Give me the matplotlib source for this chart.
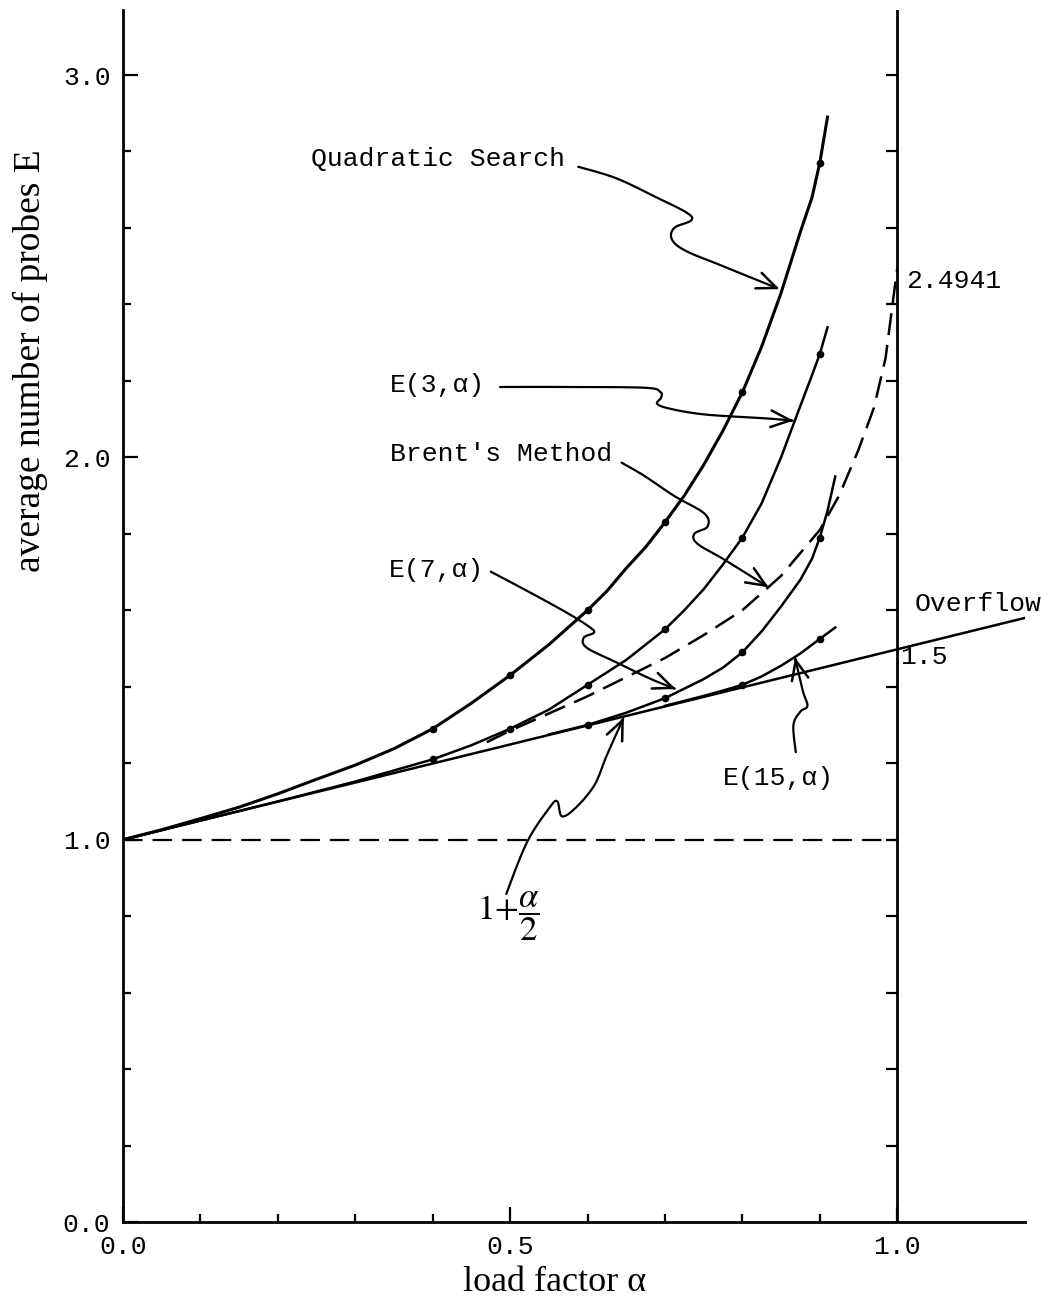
import numpy as np
import matplotlib.pyplot as plt

# values (load factor alpha -> average probes E)
quad_a = [0.0, 0.05, 0.1, 0.15, 0.2, 0.25, 0.3, 0.35, 0.4, 0.45, 0.5, 0.55, 0.6, 0.625, 0.65,
          0.675, 0.7, 0.725, 0.75, 0.775, 0.8, 0.825, 0.85, 0.875, 0.89, 0.9, 0.91]
quad_e = [1.0, 1.026, 1.055, 1.085, 1.12, 1.158, 1.195, 1.238, 1.29, 1.357, 1.43, 1.51, 1.60, 1.65, 1.71,
          1.765, 1.83, 1.90, 1.98, 2.07, 2.17, 2.29, 2.43, 2.59, 2.68, 2.77, 2.89]

e3_a = [0.0, 0.1, 0.2, 0.3, 0.4, 0.45, 0.5, 0.55, 0.6, 0.65, 0.7, 0.725, 0.75, 0.775, 0.8,
        0.825, 0.85, 0.875, 0.89, 0.9, 0.91]
e3_e = [1.0, 1.05, 1.10, 1.152, 1.21, 1.247, 1.29, 1.34, 1.405, 1.47, 1.55, 1.60, 1.655, 1.72, 1.79,
        1.88, 2.0, 2.135, 2.215, 2.27, 2.34]

e7_a = [0.55, 0.6, 0.65, 0.7, 0.75, 0.775, 0.8, 0.825, 0.85, 0.875, 0.89, 0.9, 0.91, 0.92]
e7_e = [1.275, 1.30, 1.332, 1.37, 1.42, 1.45, 1.49, 1.545, 1.61, 1.68, 1.735, 1.79, 1.86, 1.95]

e15_a = [0.7, 0.75, 0.775, 0.8, 0.825, 0.85, 0.875, 0.9, 0.92]
e15_e = [1.35, 1.376, 1.39, 1.405, 1.427, 1.455, 1.487, 1.525, 1.555]

brent_a = [0.47, 0.5, 0.55, 0.6, 0.65, 0.7, 0.75, 0.8, 0.85, 0.9, 0.925, 0.95, 0.97, 0.985, 1.0]
brent_e = [1.255, 1.285, 1.33, 1.375, 1.425, 1.475, 1.535, 1.60, 1.69, 1.81, 1.90, 2.02, 2.13, 2.26, 2.4941]

# measured points
dot_a = [0.4, 0.5, 0.6, 0.7, 0.8, 0.9]
quad_dots = [1.29, 1.43, 1.60, 1.83, 2.17, 2.77]
e3_dots = [1.21, 1.29, 1.405, 1.55, 1.79, 2.27]
e7_dot_a = [0.6, 0.7, 0.8, 0.9]
e7_dots = [1.30, 1.37, 1.49, 1.79]
e15_dot_a = [0.8, 0.9]
e15_dots = [1.405, 1.525]

# 1 + alpha/2 line (runs on past 1.0 as "Overflow")
line_a = [0.0, 1.165]
line_e = [1.0, 1.58]

mono = 'Liberation Mono'
serif = 'Liberation Serif'


def smooth(pts, n=14):
    # catmull-rom through leader waypoints
    p = np.array(pts, float)
    p = np.vstack([p[0], p, p[-1]])
    out = []
    for i in range(1, len(p) - 2):
        p0, p1, p2, p3 = p[i - 1], p[i], p[i + 1], p[i + 2]
        for t in np.linspace(0, 1, n, endpoint=False):
            out.append(0.5 * (2 * p1 + (-p0 + p2) * t + (2 * p0 - 5 * p1 + 4 * p2 - p3) * t ** 2
                              + (-p0 + 3 * p1 - 3 * p2 + p3) * t ** 3))
    out.append(p[-2])
    return np.array(out)


def leader(ax, pts):
    c = smooth(pts)
    ax.plot(c[:-1, 0], c[:-1, 1], color='black', lw=1.6, solid_capstyle='round')
    ax.annotate('', xy=tuple(c[-1]), xytext=tuple(c[-3]),
                arrowprops=dict(arrowstyle='->, head_length=1.4, head_width=0.6',
                                lw=1.8, color='black', shrinkA=0, shrinkB=0))


fig = plt.figure(figsize=(10.63, 13.0), dpi=100)
ax = fig.add_axes([0.1157, 0.06, 0.8485, 0.9323])
ax.set_xlim(0, 1.165)
ax.set_ylim(0, 3.17)

for s in ['top', 'right']:
    ax.spines[s].set_visible(False)
for s in ['left', 'bottom']:
    ax.spines[s].set_linewidth(2.0)

lw = 1.8
ax.plot(quad_a, quad_e, color='black', lw=2.2)
ax.plot(e3_a, e3_e, color='black', lw=lw)
ax.plot(e7_a, e7_e, color='black', lw=lw)
ax.plot(e15_a, e15_e, color='black', lw=lw)
ax.plot(brent_a, brent_e, color='black', lw=lw, linestyle=(0, (8.8, 4)))
ax.plot(line_a, line_e, color='black', lw=lw)
ax.plot([0.0, 1.0], [1.0, 1.0], color='black', lw=1.6, linestyle=(0, (8.8, 4.5)))

ax.plot(dot_a, quad_dots, 'o', color='black', ms=4.5)
ax.plot(dot_a, e3_dots, 'o', color='black', ms=4.5)
ax.plot(e7_dot_a, e7_dots, 'o', color='black', ms=4.5)
ax.plot(e15_dot_a, e15_dots, 'o', color='black', ms=4.5)

# vertical line at alpha = 1 with inward ticks
ax.plot([1.0, 1.0], [0, 3.17], color='black', lw=2.0)
rt = np.arange(0.2, 3.01, 0.2)
ax.hlines(rt, 1.0 - 0.014, 1.0, color='black', lw=1.6)

ax.set_xticks([0.0, 0.5, 1.0])
ax.set_xticklabels(['0.0', '0.5', '1.0'])
ax.set_xticks([0.1, 0.2, 0.3, 0.4, 0.6, 0.7, 0.8, 0.9], minor=True)
ax.set_yticks([0.0, 1.0, 2.0, 3.0])
ax.set_yticklabels(['0.0', '1.0', '2.0', '3.0'])
ax.set_yticks(np.arange(0.2, 3.0, 0.2), minor=True)
ax.tick_params(axis='both', which='major', direction='in', length=11, width=1.6,
               labelsize=19, pad=9)
ax.tick_params(axis='both', which='minor', direction='in', length=6, width=1.6)
for lab in ax.get_xticklabels() + ax.get_yticklabels():
    lab.set_fontfamily(mono)

ax.text(-0.103, 0.711, 'average number of probes E', transform=ax.transAxes,
        rotation=90, ha='center', va='center', fontsize=27, family=serif)
ax.text(0.479, -0.05, 'load factor \u03b1', transform=ax.transAxes,
        ha='center', va='center', fontsize=26, family=serif)

tf = dict(fontsize=19, family=mono, va='center', ha='left')
ax.text(0.243, 2.78, 'Quadratic Search', **tf)
ax.text(0.345, 2.19, 'E(3,\u03b1)', **tf)
ax.text(0.345, 2.01, "Brent's Method", **tf)
ax.text(0.343, 1.705, 'E(7,\u03b1)', **tf)
ax.text(0.775, 1.16, 'E(15,\u03b1)', **tf)
ax.text(1.022, 1.617, 'Overflow', **tf)
ax.text(1.004, 1.479, '1.5', **tf)
ax.text(1.011, 2.46, '2.4941', **tf)
ax.text(0.497, 0.80, r'$1{+}\dfrac{\alpha}{2}$', fontsize=25, ha='center', va='center',
        math_fontfamily='stix')

leader(ax, [(0.588, 2.76), (0.637, 2.73), (0.689, 2.68), (0.728, 2.64), (0.734, 2.62),
            (0.712, 2.60), (0.709, 2.57), (0.727, 2.54), (0.775, 2.50), (0.848, 2.44)])
leader(ax, [(0.487, 2.184), (0.571, 2.184), (0.674, 2.182), (0.694, 2.171), (0.695, 2.156),
            (0.690, 2.140), (0.707, 2.127), (0.752, 2.112), (0.829, 2.102), (0.866, 2.096)])
leader(ax, [(0.644, 1.986), (0.673, 1.952), (0.712, 1.899), (0.751, 1.853), (0.755, 1.819),
            (0.738, 1.800), (0.742, 1.774), (0.777, 1.732), (0.834, 1.660)])
leader(ax, [(0.475, 1.701), (0.530, 1.642), (0.578, 1.588), (0.604, 1.554), (0.608, 1.541),
            (0.595, 1.528), (0.599, 1.502), (0.637, 1.464), (0.681, 1.421), (0.714, 1.394)])
leader(ax, [(0.495, 0.858), (0.522, 0.994), (0.551, 1.084), (0.561, 1.100), (0.567, 1.061),
            (0.585, 1.084), (0.609, 1.143), (0.625, 1.221), (0.647, 1.320)])
leader(ax, [(0.869, 1.229), (0.866, 1.300), (0.875, 1.335), (0.884, 1.350), (0.878, 1.390),
            (0.868, 1.477)])

fig.savefig('out.png', dpi=100)
